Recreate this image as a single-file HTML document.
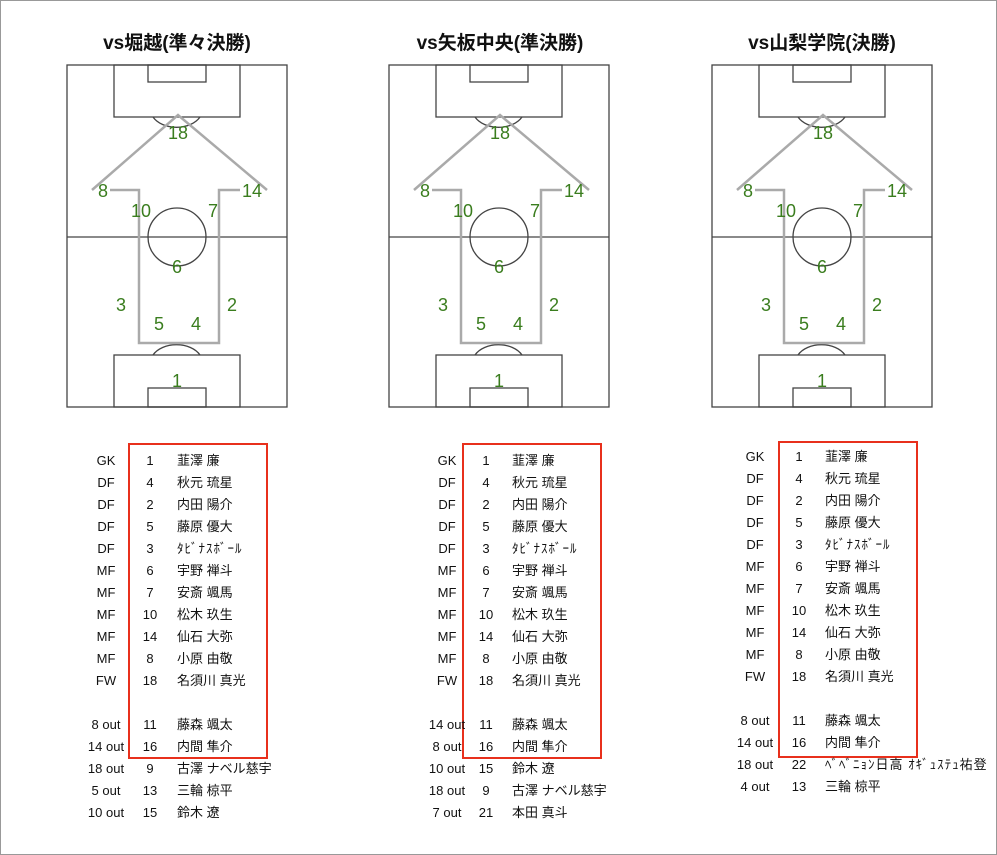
<!DOCTYPE html>
<html><head><meta charset="utf-8"><style>
body{margin:0;width:997px;height:855px;background:#fff;position:relative;overflow:hidden;font-family:"Liberation Sans","Noto Sans CJK JP",sans-serif}
.frame{position:absolute;left:0;top:0;width:995px;height:853px;border:1px solid #999}
.t{position:absolute;font-size:13px;color:#111;white-space:nowrap;line-height:22px}
.c{transform:translateX(-50%)}
.box{position:absolute;border:2px solid #e8301c}
.k{letter-spacing:1px}
</style></head><body>
<div class="frame"></div>
<svg width="997" height="855" style="position:absolute;left:0;top:0">
<defs>
<g id="p">
<g fill="none" stroke="#444" stroke-width="1.3">
<rect x="67" y="65" width="220" height="342"/>
<line x1="67" y1="237" x2="287" y2="237"/>
<circle cx="177" cy="237" r="29"/>
<rect x="114" y="65" width="126" height="52"/>
<rect x="148" y="65" width="58" height="17"/>
<rect x="114" y="355" width="126" height="52"/>
<rect x="148" y="388" width="58" height="19"/>
<path d="M153 117 A26 18 0 0 0 200 117"/>
<path d="M153 355 A26 18 0 0 1 200 355"/>
</g>
<g fill="none" stroke="#aaa" stroke-width="2.5">
<polyline points="92,190 178,115 267,190"/>
<polyline points="110,190 139,190 139,343 219,343 219,190 240,190"/>
</g>
<g fill="#3a7d1e" font-family="Liberation Sans,sans-serif" font-size="18" text-anchor="middle">
<text x="178" y="139">18</text><text x="103" y="197">8</text><text x="252" y="197">14</text>
<text x="141" y="217">10</text><text x="213" y="217">7</text><text x="177" y="273">6</text>
<text x="121" y="311">3</text><text x="232" y="311">2</text><text x="159" y="330">5</text>
<text x="196" y="330">4</text><text x="177" y="387">1</text>
</g>
</g>
</defs>
<use href="#p"/>
<use href="#p" transform="translate(322,0)"/>
<use href="#p" transform="translate(645,0)"/>
<g font-family="Liberation Sans,Noto Sans CJK JP,sans-serif" font-size="19" font-weight="bold" text-anchor="middle" fill="#111">
<text x="177" y="49">vs堀越(準々決勝)</text>
<text x="500" y="49">vs矢板中央(準決勝)</text>
<text x="822" y="49">vs山梨学院(決勝)</text>
</g>
</svg>

<div class="box" style="left:128px;top:443px;width:136px;height:312px"></div>
<div class="box" style="left:462px;top:443px;width:136px;height:312px"></div>
<div class="box" style="left:778px;top:441px;width:136px;height:313px"></div>

<div class="t c" style="left:106px;top:450px;text-align:center">GK<br>DF<br>DF<br>DF<br>DF<br>MF<br>MF<br>MF<br>MF<br>MF<br>FW<br>&nbsp;<br>8 out<br>14 out<br>18 out<br>5 out<br>10 out</div>
<div class="t c" style="left:150px;top:450px;text-align:center">1<br>4<br>2<br>5<br>3<br>6<br>7<br>10<br>14<br>8<br>18<br>&nbsp;<br>11<br>16<br>9<br>13<br>15</div>
<div class="t" style="left:177px;top:450px">韮澤 廉<br>秋元 琉星<br>内田 陽介<br>藤原 優大<br><span class="k">ﾀﾋﾞﾅｽﾎﾞｰﾙ</span><br>宇野 禅斗<br>安斎 颯馬<br>松木 玖生<br>仙石 大弥<br>小原 由敬<br>名須川 真光<br>&nbsp;<br>藤森 颯太<br>内間 隼介<br>古澤 ナベル慈宇<br>三輪 椋平<br>鈴木 遼</div>

<div class="t c" style="left:447px;top:450px;text-align:center">GK<br>DF<br>DF<br>DF<br>DF<br>MF<br>MF<br>MF<br>MF<br>MF<br>FW<br>&nbsp;<br>14 out<br>8 out<br>10 out<br>18 out<br>7 out</div>
<div class="t c" style="left:486px;top:450px;text-align:center">1<br>4<br>2<br>5<br>3<br>6<br>7<br>10<br>14<br>8<br>18<br>&nbsp;<br>11<br>16<br>15<br>9<br>21</div>
<div class="t" style="left:512px;top:450px">韮澤 廉<br>秋元 琉星<br>内田 陽介<br>藤原 優大<br><span class="k">ﾀﾋﾞﾅｽﾎﾞｰﾙ</span><br>宇野 禅斗<br>安斎 颯馬<br>松木 玖生<br>仙石 大弥<br>小原 由敬<br>名須川 真光<br>&nbsp;<br>藤森 颯太<br>内間 隼介<br>鈴木 遼<br>古澤 ナベル慈宇<br>本田 真斗</div>

<div class="t c" style="left:755px;top:446px;text-align:center">GK<br>DF<br>DF<br>DF<br>DF<br>MF<br>MF<br>MF<br>MF<br>MF<br>FW<br>&nbsp;<br>8 out<br>14 out<br>18 out<br>4 out</div>
<div class="t c" style="left:799px;top:446px;text-align:center">1<br>4<br>2<br>5<br>3<br>6<br>7<br>10<br>14<br>8<br>18<br>&nbsp;<br>11<br>16<br>22<br>13</div>
<div class="t" style="left:825px;top:446px">韮澤 廉<br>秋元 琉星<br>内田 陽介<br>藤原 優大<br><span class="k">ﾀﾋﾞﾅｽﾎﾞｰﾙ</span><br>宇野 禅斗<br>安斎 颯馬<br>松木 玖生<br>仙石 大弥<br>小原 由敬<br>名須川 真光<br>&nbsp;<br>藤森 颯太<br>内間 隼介<br><span class="k">ﾍﾞﾍﾞﾆｮﾝ日高 ｵｷﾞｭｽﾃｭ祐登</span><br>三輪 椋平</div>
</body></html>
